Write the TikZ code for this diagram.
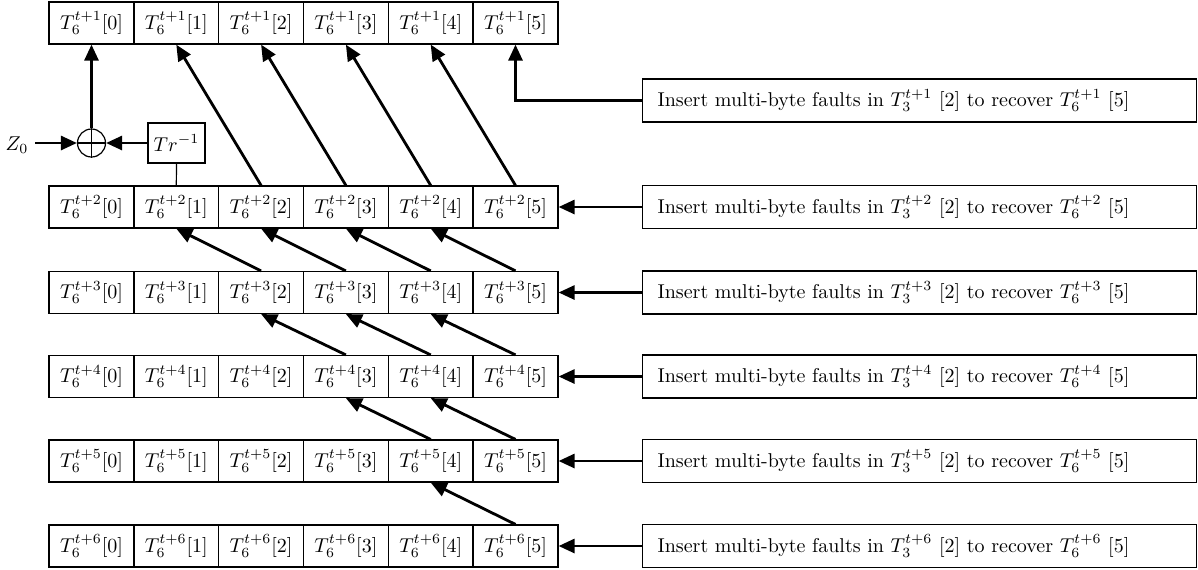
\documentclass[tikz,border=0pt]{standalone}
\usetikzlibrary{arrows.meta, positioning, calc}
\tikzset{
  cell/.style={draw, line width=0.6pt, minimum width=42.5pt, minimum height=21pt, inner sep=0pt},
  faultbox/.style={draw, line width=0.6pt, anchor=west, text width=262pt, inner xsep=7.5pt, minimum height=21.5pt, align=left},
  thickarrow/.style={line width=1.4pt, -{Triangle[length=8pt,width=7pt]}},
}

\begin{document}
\begin{tikzpicture}[x=0.5pt,y=-0.5pt]
\useasboundingbox (0,0) rectangle (1198,569);
% rows of T_6 bytes
\foreach \r/\y in {1/23, 2/207, 3/292.5, 4/376.5, 5/461, 6/546} {
  \foreach \k in {0,...,5} {
    \node[cell] (c\r\k) at ({91.5+84.8*\k},\y) {$T_6^{t+\r}$[\k]};
  }
}

% fault injection boxes
\foreach \r/\y in {1/100.5, 2/207, 3/292.5, 4/376.5, 5/461, 6/546} {
  \node[faultbox] (f\r) at (642,\y) {Insert multi-byte faults in $T_3^{t+\r}$ [2] to recover $T_6^{t+\r}$ [5]};
}
\draw[thickarrow] (f1.west) -| (c15.south);
\foreach \r in {2,...,6} {
  \draw[thickarrow] (f\r.west) -- (c\r5.east);
}

% shifts to the row above
\foreach \r/\first in {2/2, 3/2, 4/3, 5/4, 6/5} {
  \pgfmathtruncatemacro{\up}{\r-1}
  \foreach \k in {\first,...,5} {
    \pgfmathtruncatemacro{\prev}{\k-1}
    \draw[thickarrow] (c\r\k.north) -- (c\up\prev.south);
  }
}

% feedback through Tr^{-1}
\node[draw, circle, line width=0.6pt, minimum size=14pt, inner sep=0pt] (xor) at (91.5,143) {};
\draw[line width=0.6pt] (xor.north) -- (xor.south) (xor.west) -- (xor.east);
\node[draw, line width=0.6pt, minimum width=28.5pt, minimum height=20pt, inner sep=0pt] (tr) at (176.5,143) {$Tr^{-1}$};
\node (z0) at (17,145) {$Z_0$};
\draw[line width=0.6pt] (tr.south) -- (c21.north);
\draw[thickarrow] (tr.west) -- (xor.east);
\draw[thickarrow] (z0.east |- xor.west) -- (xor.west);
\draw[thickarrow] (xor.north) -- (c10.south);
\end{tikzpicture}
\end{document}
